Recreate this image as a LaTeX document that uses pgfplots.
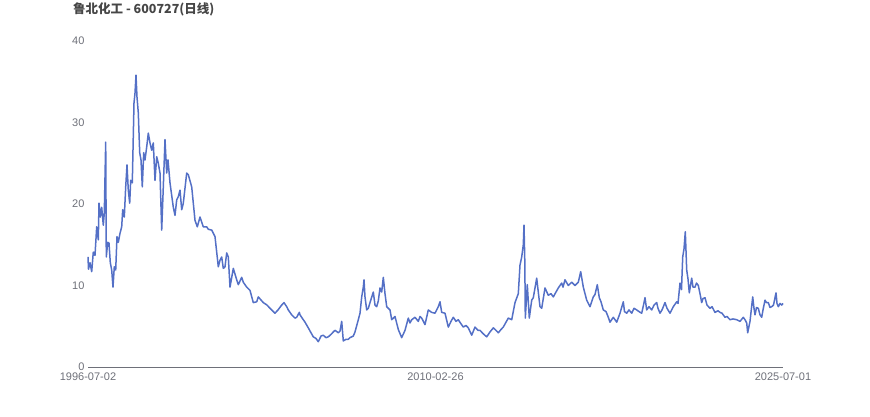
\documentclass[border=0pt]{standalone}
\usepackage{pgfplots}
\pgfplotsset{compat=1.18}
\usepackage{fontspec}
\setmainfont{Liberation Sans}
\newfontfamily\cjk{Noto Sans CJK SC}
\definecolor{gridc}{HTML}{E0E6F1}
\definecolor{axisc}{HTML}{6E7079}
\definecolor{titlec}{HTML}{464646}
\definecolor{linec}{HTML}{5470C6}

% x = horizontal position of each trading day (88 = 1996-07-02, 783 = 2025-07-01)
\begin{document}
\begin{tikzpicture}[x=1pt,y=1pt]
\path[use as bounding box] (0,0) rectangle (870,417);
\node[anchor=west, text=titlec, font=\cjk\bfseries\fontsize{12.5}{14}\selectfont, inner sep=0pt] at (73,408) {鲁北化工 - 600727(日线)};
\begin{axis}[
  scale only axis, width=695pt, height=326pt,
  at={(88pt,50pt)}, anchor=south west,
  xmin=88, xmax=783, ymin=0, ymax=40,
  xtick={88,435.5,783},
  xticklabels={1996-07-02,2010-02-26,2025-07-01},
  ytick={0,10,20,30,40},
  major tick length=0pt,
  axis x line=bottom, axis y line=none,
  axis line style={axisc, line width=0.8pt, -},
  ymajorgrids, grid style={gridc, line width=0.6pt},
  tick label style={text=axisc, font=\fontsize{11}{13}\selectfont},
  xticklabel style={yshift=-2pt},
  /pgf/number format/assume math mode=true,
  clip=false,
]
\pgfplotsextra{
  \foreach \v/\yy in {0/0,10/10,20/20,30/30,40/40}{
    \node[anchor=east, text=axisc, font=\fontsize{11}{13}\selectfont] at (axis cs:88,\yy) {\hspace{0pt}\v};
  }
}
\addplot[linec, line width=1.5pt, line join=round] coordinates {
(88,13.5) (88.5,12.0) (90,12.8) (91.7,11.7) (93.3,14.1) (95,13.7) (96.7,17.2) (98.3,15.6)
(99,20.1) (100.3,18.4) (101.7,19.6) (103.3,17.4) (104.3,18.9) (105.7,27.6) (106.3,13.5)
(107.7,15.3) (109,15.2) (110.3,12.8) (111.7,11.9) (113,9.8) (114.3,12.3) (115.7,11.9)
(117,16.0) (118.3,15.3) (120,16.4) (121.7,17.2) (122.7,19.3) (124.3,18.4) (125.7,22.1)
(127,24.8) (128.3,21.7) (129.7,20.1) (130.7,22.9) (132.3,22.6) (134,32.4) (135,33.6)
(136,35.8) (137,33.1) (138.3,31.2) (139.7,26.3) (141,25.4) (142.3,22.1) (143.7,26.3)
(145,25.4) (146.7,27.0) (148.3,28.7) (150,27.5) (151.7,26.6) (153.3,27.5) (155,22.9)
(156.7,25.8) (158.3,25.0) (160,23.8) (161.7,16.8) (163.3,22.1) (165,27.9) (166.7,23.8)
(168,25.4) (170,22.6) (173.3,19.6) (175,18.6) (176.7,20.5) (178.3,20.9) (180,21.7)
(181.7,19.3) (183.3,20.1) (186.7,23.8) (188.3,23.6) (191.7,22.1) (195,18.0) (197.3,17.2)
(200,18.4) (203.3,17.2) (206.7,17.2) (208.3,16.9) (211.7,16.8) (215,16.0) (218.3,12.3)
(220,13.1) (221.7,13.5) (223.3,12.1) (225,12.3) (226.7,14.0) (228.3,13.5) (230,9.8)
(233.3,12.1) (236.7,10.7) (238.3,10.1) (241.7,11.0) (243.3,10.4) (246.7,9.8) (250,9.4)
(253.3,7.9) (256.7,8.0) (258.3,8.6) (263.3,7.9) (267,7.6) (270,7.2) (275,6.6) (278,7.0)
(281.7,7.6) (284,7.9) (286.7,7.4) (288.3,7.0) (291.7,6.4) (295,6.0) (296.7,6.1) (299.3,6.7)
(300,6.4) (303.3,5.8) (305,5.5) (308.3,4.8) (311,4.2) (313.3,3.7) (316,3.5) (318.3,3.1)
(321,3.8) (323.3,3.9) (326,3.6) (328.3,3.7) (331,4.0) (333.3,4.3) (335,4.5) (338.3,4.2)
(340,4.4) (341.7,5.6) (343.3,3.2) (346,3.4) (348.3,3.4) (350,3.6) (353.3,3.8) (355,4.3)
(358.3,5.8) (360,6.6) (361.7,8.6) (363.3,9.8) (364,10.7) (365,8.6) (366.7,7.0) (368.3,7.2)
(370,7.9) (373.3,9.2) (375,7.6) (376.7,7.4) (378.3,8.1) (380,9.7) (381.7,9.2) (383.3,11.0)
(385,9.0) (386.7,7.4) (388.3,7.2) (390,7.0) (391.7,5.8) (395,6.2) (398.3,4.6) (401.7,3.6)
(405,4.5) (408.3,6.0) (410,5.4) (411.7,5.8) (415,6.1) (418.3,5.6) (420,6.2) (421.7,6.0)
(425,5.2) (428.3,7.0) (431.7,6.7) (435,6.6) (438.3,7.4) (440,8.0) (441.7,6.7) (445,6.6)
(448.3,4.9) (451,5.6) (453.3,6.1) (456,5.6) (458.3,5.8) (461,5.3) (463.3,4.9) (466,5.1)
(468.3,4.8) (471.7,3.9) (475,4.9) (478,4.5) (480,4.5) (483,4.1) (486.7,3.7) (490,4.3)
(493.3,4.8) (496,4.5) (498.3,4.2) (501,4.6) (503.3,4.9) (506,5.5) (508.3,6.0) (511.7,5.8)
(515,7.9) (518.3,9.0) (520,12.5) (521.7,13.5) (523.3,15.0) (524,17.4) (524.8,13.0)
(525.3,6.0) (527.3,10.1) (529.3,6.0) (531.7,8.2) (533.3,8.5) (536.7,10.9) (538,9.5)
(540,7.4) (541.7,7.2) (545,9.7) (548.3,8.8) (551,9.0) (553.3,8.6) (556,9.2) (558.3,9.7)
(561.7,10.3) (563,9.8) (565,10.7) (568.3,10.0) (571.7,10.4) (575,10.0) (578.3,10.4)
(580.7,11.7) (583.3,9.8) (586.7,8.2) (590,7.4) (593.3,8.6) (595,8.9) (597.3,10.1)
(599.3,8.5) (601,8.0) (603.3,7.0) (606,6.8) (608,6.2) (610,5.5) (613.3,6.1) (616.7,5.5)
(620,6.6) (623.3,8.0) (624.5,6.8) (626.7,6.6) (629,7.0) (631.7,6.6) (634,7.2) (636.7,7.0)
(639,6.8) (641.7,6.6) (643.5,7.6) (645,8.5) (646.7,7.0) (649,7.4) (651.7,7.0) (654,7.6)
(656.7,7.9) (658,7.2) (660,6.6) (662,7.0) (665,7.9) (667,7.2) (670,6.6) (673.3,7.4)
(676.7,8.0) (678,7.8) (680,10.3) (681.5,9.5) (682.7,13.5) (684,14.5) (685.3,16.6)
(686.7,11.9) (688,10.8) (689.3,9.1) (691.7,10.9) (693,9.8) (695,9.8) (696.5,10.3)
(698.3,10.0) (700,9.0) (701.7,7.9) (703,8.4) (705,8.5) (707,7.6) (710,7.2) (712,7.4)
(715,6.7) (718,6.9) (720,6.7) (722,6.6) (725,6.1) (727,6.2) (730,5.8) (733,5.9)
(736.7,5.8) (740,5.6) (743.3,6.1) (745,5.8) (746.7,5.4) (747.7,4.2) (749,5.0) (750,5.6)
(752.7,8.6) (754,7.2) (755,6.4) (756.5,7.3) (758.3,7.2) (760,6.4) (761.7,6.1) (763,7.0)
(765,8.2) (766.5,7.9) (768.3,7.9) (770,7.3) (771.7,7.4) (773.5,7.6) (776,9.1) (777,7.8)
(778.3,7.4) (780,7.8) (781.7,7.6) (783,7.8)
};
\end{axis}
\end{tikzpicture}
\end{document}
